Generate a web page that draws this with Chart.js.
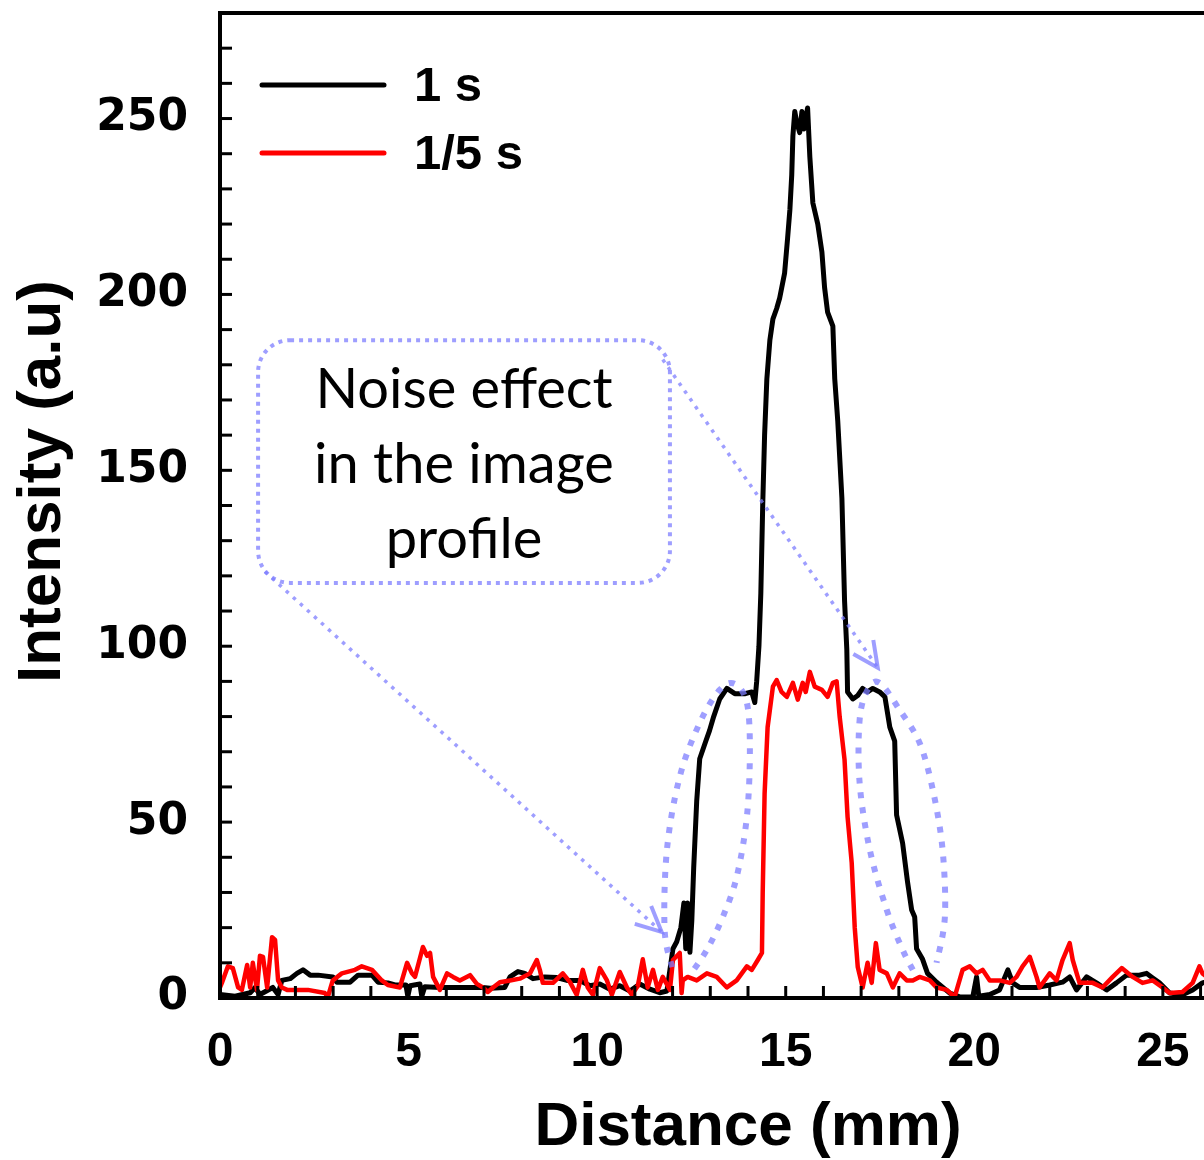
<!DOCTYPE html>
<html>
<head>
<meta charset="utf-8">
<title>Intensity profile</title>
<script src="https://cdn.jsdelivr.net/npm/chart.js@4.4.1/dist/chart.umd.min.js"></script>
<style>
  html, body { margin: 0; padding: 0; background: #fff; overflow: hidden; }
  #wrap { width: 1280px; height: 1160px; }
</style>
</head>
<body>
<div id="wrap"><canvas id="profileChart" width="1280" height="1160"></canvas></div>
<script>
// series: distance (mm) / intensity (a.u)
const distance1s = [
  0.00, 0.40, 0.80, 0.93, 1.06, 1.40, 1.54, 1.64, 1.86, 2.04, 2.20, 2.39, 2.60, 2.99, 3.10, 3.45,
  3.66, 4.03, 4.19, 4.45, 4.64, 4.93, 4.98, 5.04, 5.30, 5.35, 5.43, 5.83, 6.36, 6.97, 7.16, 7.55,
  7.69, 7.90, 8.08, 8.30, 8.61, 8.93, 9.20, 9.54, 9.81, 10.07, 10.34, 10.60, 10.87, 11.13, 11.40, 11.66,
  11.85, 11.93, 12.01, 12.11, 12.22, 12.30, 12.35, 12.40, 12.46, 12.51, 12.56, 12.64, 12.72, 12.88, 12.98, 13.09,
  13.25, 13.44, 13.65, 13.91, 14.10, 14.18, 14.23, 14.29, 14.34, 14.39, 14.44, 14.50, 14.58, 14.66, 14.76, 14.84,
  14.97, 15.05, 15.11, 15.16, 15.19, 15.24, 15.29, 15.37, 15.43, 15.48, 15.53, 15.58, 15.64, 15.72, 15.85, 15.96,
  16.03, 16.11, 16.25, 16.30, 16.38, 16.49, 16.56, 16.62, 16.64, 16.78, 16.91, 17.04, 17.17, 17.31, 17.49, 17.63,
  17.76, 17.89, 17.94, 18.10, 18.23, 18.34, 18.42, 18.47, 18.63, 18.76, 19.00, 19.35, 19.61, 19.96, 20.06, 20.12,
  20.41, 20.67, 20.89, 21.02, 21.20, 21.65, 22.00, 22.34, 22.53, 22.71, 22.98, 23.24, 23.51, 23.77, 24.04, 24.38,
  24.57, 24.73, 24.91, 25.18, 25.52, 25.79, 26.05, 26.29
];
const intensity1s = [
  1, 0.5, 1.5, 3, 1, 3, 1, 5, 5.5, 7, 8, 6.5, 6.5, 6, 4.5, 4.5,
  6.5, 6.5, 4.5, 4.3, 3.7, 3.7, 0.5, 3.5, 4, 0.5, 3.2, 3, 3, 3, 2.8, 3,
  6, 7.5, 7, 5.5, 6, 5.8, 5, 5, 3.5, 4, 2.5, 3.5, 2, 4, 2.5, 1.5,
  2, 8, 14, 16, 20, 27, 14, 27, 13, 22, 37, 56, 68, 73, 76, 80,
  85, 88, 86.5, 86.5, 87, 84, 90, 100, 115, 140, 160, 176, 187, 193, 196, 199,
  206, 216, 224, 234, 245, 252, 249, 246, 252, 247, 250, 253, 239, 226, 220, 212,
  202, 195, 191, 176, 164, 142, 113, 99, 87, 85, 86, 88, 87, 88, 87, 85.6,
  77, 73, 52, 44, 33, 25, 23, 14, 11, 7, 4.5, 1.4, 0.3, 0.3, 6, 0.5,
  1, 2.3, 8, 4.3, 3, 3, 3.7, 4.5, 6, 2.3, 6, 4.3, 2.3, 4.3, 6.5, 6.5,
  7, 5.7, 4.3, 1.4, 0.9, 2.3, 4.3, 5
];

const distance5s = [
  0.00, 0.05, 0.21, 0.34, 0.48, 0.58, 0.72, 0.80, 0.87, 0.98, 1.06, 1.14, 1.25, 1.38, 1.46, 1.54,
  1.64, 1.78, 2.07, 2.33, 2.78, 2.86, 2.99, 3.23, 3.58, 3.76, 4.03, 4.29, 4.45, 4.77, 4.96, 5.09,
  5.17, 5.38, 5.49, 5.57, 5.65, 5.83, 6.02, 6.18, 6.36, 6.63, 6.81, 6.97, 7.10, 7.24, 7.42, 7.69,
  7.95, 8.22, 8.40, 8.48, 8.56, 8.83, 9.09, 9.28, 9.46, 9.62, 9.75, 9.89, 10.07, 10.26, 10.39, 10.60,
  10.79, 10.92, 11.08, 11.21, 11.34, 11.48, 11.61, 11.74, 11.93, 12.01, 12.19, 12.24, 12.27, 12.40, 12.64, 12.91,
  13.17, 13.44, 13.70, 13.97, 14.10, 14.26, 14.37, 14.39, 14.44, 14.52, 14.66, 14.76, 14.89, 15.03, 15.19, 15.32,
  15.45, 15.53, 15.64, 15.77, 15.96, 16.11, 16.25, 16.35, 16.43, 16.56, 16.64, 16.75, 16.83, 16.91, 17.04, 17.17,
  17.28, 17.39, 17.49, 17.68, 17.84, 18.02, 18.21, 18.37, 18.55, 18.82, 19.00, 19.27, 19.48, 19.69, 19.88, 20.06,
  20.22, 20.41, 20.67, 20.94, 21.12, 21.28, 21.47, 21.65, 21.73, 22.00, 22.18, 22.34, 22.53, 22.61, 22.79, 23.14,
  23.40, 23.67, 23.91, 24.20, 24.46, 24.73, 24.99, 25.18, 25.52, 25.79, 25.97, 26.05, 26.29
];
const intensity5s = [
  3, 4.3, 9, 8.5, 3, 2.3, 9.4, 3, 10, 2.3, 12, 11.7, 3, 17.3, 16.5, 5,
  3, 2.3, 2.3, 2.3, 1.4, 0.3, 5, 7, 8, 9, 8, 5, 3.7, 3, 10, 7,
  6, 14.5, 12, 12.8, 6, 2.3, 7, 6, 5, 6.5, 4, 3, 1.7, 3, 4.5, 5,
  5.5, 7, 10.8, 8, 4.3, 4.3, 7, 4.5, 0.9, 8, 3, 0.9, 8.5, 5, 0.9, 7.4,
  3, 0.9, 3.5, 11, 3, 8, 2.3, 6, 2.3, 10.8, 12.8, 1.4, 5, 6, 5, 7,
  6, 3, 5, 9, 8, 10.8, 12.8, 30, 58, 77, 88.5, 90.4, 87, 85.6, 89.6, 84.8,
  89.6, 87, 92.7, 88.5, 87.6, 85.6, 89.6, 90, 80, 67.7, 51.5, 38.4, 20, 8.8, 3, 10,
  4.3, 15.6, 8, 7, 3, 7, 5, 5, 6, 5, 3, 2.3, 0.3, 8, 9, 7,
  8, 5, 5, 4.3, 6, 9, 11.7, 6, 3, 7, 5, 10.8, 15.6, 10.8, 4.3, 4.3,
  3, 6, 8.5, 6, 4.3, 5, 3, 1.4, 1.7, 4.3, 9, 7, 5
];

const seriesLabels = ['1 s', '1/5 s'];
const xLabelValues = [0, 5, 10, 15, 20, 25];
const yLabelValues = [0, 50, 100, 150, 200, 250];
const yTitle = 'Intensity (a.u)';
const noteLines = ['Noise effect', 'in the image', 'profile'];

const toPoints = (xs, ys) => xs.map((x, i) => ({ x, y: ys[i] }));

// callout geometry, in axis units
const callout = {
  box: { x0: 1.01, x1: 11.93, y0: 118, y1: 187 },
  arrows: [
    { from: [11.74, 181.5], to: [17.44, 93.9] },
    { from: [1.19, 121.2], to: [11.71, 18.8] }
  ],
  loops: [
    [[11.99, 8.8], [11.79, 19.3], [11.85, 42.1], [12.19, 62.9], [12.72, 78.2], [13.25, 87.6], [13.65, 89.3],
     [13.97, 83.9], [14.05, 70.5], [13.97, 51.5], [13.70, 34.4], [13.33, 23.0], [12.91, 13.7], [12.46, 6.5]],
    [[18.37, 8.0], [18.10, 13.7], [17.68, 25.0], [17.23, 42.1], [16.96, 61.1], [16.96, 79.1], [17.17, 87.6],
     [17.49, 89.6], [18.02, 81.9], [18.55, 72.5], [18.90, 59.2], [19.16, 42.1], [19.22, 23.0], [19.00, 10.0]]
  ]
};

function smoothPath(ctx, pts) {
  ctx.moveTo(pts[0].x, pts[0].y);
  for (let i = 0; i < pts.length - 1; i++) {
    const p0 = pts[i - 1] || pts[i], p1 = pts[i], p2 = pts[i + 1], p3 = pts[i + 2] || p2;
    ctx.bezierCurveTo(
      p1.x + (p2.x - p0.x) / 6, p1.y + (p2.y - p0.y) / 6,
      p2.x - (p3.x - p1.x) / 6, p2.y - (p3.y - p1.y) / 6,
      p2.x, p2.y);
  }
}

const framePlugin = {
  id: 'frame',
  afterDatasetsDraw(chart) {
    const { ctx, chartArea: a, scales: { x, y } } = chart;
    ctx.save();
    ctx.strokeStyle = '#000';
    ctx.lineWidth = 3;
    for (const t of x.ticks) {
      const px = x.getPixelForValue(t.value);
      ctx.beginPath(); ctx.moveTo(px, a.bottom); ctx.lineTo(px, a.bottom - 12); ctx.stroke();
    }
    for (const t of y.ticks) {
      const py = y.getPixelForValue(t.value);
      ctx.beginPath(); ctx.moveTo(a.left, py); ctx.lineTo(a.left + 12, py); ctx.stroke();
    }
    ctx.lineWidth = 4;
    ctx.strokeRect(a.left, a.top, a.right - a.left, a.bottom - a.top);

    // y title sits a little above the axis middle in the original
    ctx.fillStyle = '#000';
    ctx.font = 'bold 62px "Liberation Sans", Arial, sans-serif';
    ctx.textAlign = 'center';
    ctx.textBaseline = 'middle';
    ctx.translate(43, (a.top + a.bottom) / 2 - 24);
    ctx.rotate(-Math.PI / 2);
    ctx.fillText(yTitle, 0, 0);
    ctx.restore();
  }
};

const calloutPlugin = {
  id: 'callout',
  afterDatasetsDraw(chart) {
    const { ctx, scales: { x, y } } = chart;
    const P = ([vx, vy]) => ({ x: x.getPixelForValue(vx), y: y.getPixelForValue(vy) });
    const blue = 'rgba(125, 125, 255, 0.75)';
    ctx.save();
    ctx.strokeStyle = blue;

    // dotted loops round the shoulders
    ctx.lineWidth = 6;
    ctx.setLineDash([6, 9]);
    for (const loop of callout.loops) {
      ctx.beginPath();
      smoothPath(ctx, loop.map(P));
      ctx.stroke();
    }

    // rounded note box
    const b = callout.box;
    const l = x.getPixelForValue(b.x0), r = x.getPixelForValue(b.x1);
    const t = y.getPixelForValue(b.y1), btm = y.getPixelForValue(b.y0);
    ctx.lineWidth = 4;
    ctx.setLineDash([4, 5]);
    ctx.beginPath();
    ctx.roundRect(l, t, r - l, btm - t, 32);
    ctx.stroke();

    // dotted arrows with open heads
    for (const arr of callout.arrows) {
      const s = P(arr.from), e = P(arr.to);
      ctx.lineWidth = 3.5;
      ctx.setLineDash([3.5, 6]);
      ctx.beginPath(); ctx.moveTo(s.x, s.y); ctx.lineTo(e.x, e.y); ctx.stroke();
      const ang = Math.atan2(s.y - e.y, s.x - e.x);
      ctx.setLineDash([]);
      ctx.lineWidth = 4;
      ctx.beginPath();
      ctx.moveTo(e.x + 28 * Math.cos(ang + 0.45), e.y + 28 * Math.sin(ang + 0.45));
      ctx.lineTo(e.x, e.y);
      ctx.lineTo(e.x + 28 * Math.cos(ang - 0.45), e.y + 28 * Math.sin(ang - 0.45));
      ctx.stroke();
    }

    ctx.fillStyle = '#000';
    ctx.font = '56px Lato, "Open Sans", sans-serif';
    ctx.textAlign = 'center';
    ctx.textBaseline = 'middle';
    const cx = (l + r) / 2, cy = (t + btm) / 2 + 3;
    noteLines.forEach((line, i) => ctx.fillText(line, cx, cy + (i - 1) * 75));
    ctx.restore();
  }
};

const legendPlugin = {
  id: 'cornerLegend',
  afterDraw(chart) {
    const { ctx, chartArea: a } = chart;
    ctx.save();
    ctx.font = 'bold 49px "Liberation Sans", Arial, sans-serif';
    ctx.textBaseline = 'middle';
    chart.data.datasets.forEach((ds, i) => {
      const yy = a.top + 72 + i * 68;
      ctx.strokeStyle = ds.borderColor;
      ctx.lineWidth = 5;
      ctx.lineCap = 'round';
      ctx.beginPath(); ctx.moveTo(a.left + 42, yy); ctx.lineTo(a.left + 164, yy); ctx.stroke();
      ctx.fillStyle = '#000';
      ctx.fillText(ds.label, a.left + 194, yy + 2);
    });
    ctx.restore();
  }
};

new Chart(document.getElementById('profileChart'), {
  type: 'line',
  data: {
    datasets: [
      {
        label: seriesLabels[0],
        data: toPoints(distance1s, intensity1s),
        borderColor: '#000000',
        borderWidth: 5,
        borderJoinStyle: 'round',
        pointRadius: 0,
        tension: 0,
        order: 1
      },
      {
        label: seriesLabels[1],
        data: toPoints(distance5s, intensity5s),
        borderColor: '#ff0000',
        borderWidth: 4.5,
        borderJoinStyle: 'round',
        pointRadius: 0,
        tension: 0,
        order: 0
      }
    ]
  },
  options: {
    responsive: false,
    animation: false,
    layout: { padding: { top: 13, right: 4, left: 0, bottom: 0 } },
    plugins: {
      legend: { display: false },
      tooltip: { enabled: false }
    },
    scales: {
      x: {
        type: 'linear',
        min: 0,
        max: 28,
        afterFit: (s) => { s.height = 162; s.paddingLeft = 0; s.paddingRight = 0; },
        grid: { display: false, drawTicks: false },
        border: { display: false },
        ticks: {
          stepSize: 1,
          autoSkip: false,
          maxRotation: 0,
          padding: 26,
          color: '#000',
          font: { family: '"Liberation Sans", Arial, sans-serif', weight: 'bold', size: 48 },
          callback: (v) => xLabelValues.includes(v) ? String(v) : ''
        },
        title: {
          display: true,
          text: 'Distance (mm)',
          color: '#000',
          font: { family: '"Liberation Sans", Arial, sans-serif', weight: 'bold', size: 62, lineHeight: 1 },
          padding: { top: 0, bottom: 1 }
        }
      },
      y: {
        min: 0,
        max: 280,
        afterFit: (s) => { s.width = 220; s.paddingTop = 0; s.paddingBottom = 0; },
        grid: { display: false, drawTicks: false },
        border: { display: false },
        ticks: {
          stepSize: 10,
          autoSkip: false,
          padding: 32,
          color: '#000',
          font: { family: '"DejaVu Sans", Verdana, sans-serif', weight: 'bold', size: 44 },
          callback: (v) => yLabelValues.includes(v) ? String(v) : ''
        },
        title: { display: false }
      }
    }
  },
  plugins: [framePlugin, calloutPlugin, legendPlugin]
});
</script>
</body>
</html>
